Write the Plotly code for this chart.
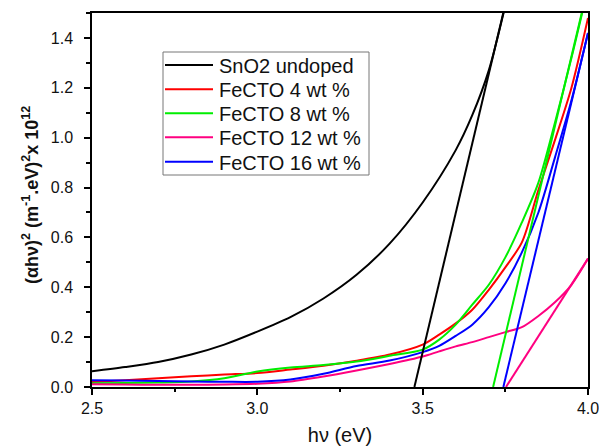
import plotly.graph_objects as go

# ---- data ----
x_black = [2.5, 2.6, 2.7, 2.8, 2.9, 3.0, 3.1, 3.2, 3.3, 3.4, 3.5, 3.6, 3.65, 3.7, 3.75]
y_sno2 = [0.063, 0.08, 0.10, 0.13, 0.17, 0.222, 0.28, 0.355, 0.45, 0.575, 0.74, 0.95, 1.09, 1.27, 1.53]

x_fe = [2.5, 2.6, 2.7, 2.8, 2.9, 3.0, 3.1, 3.2, 3.3, 3.4, 3.5, 3.55, 3.6, 3.65, 3.7,
        3.75, 3.8, 3.85, 3.9, 3.95, 4.0]
y_fe4 = [0.02, 0.027, 0.035, 0.043, 0.05, 0.056, 0.07, 0.085, 0.105, 0.13, 0.17, 0.21,
         0.255, 0.31, 0.39, 0.48, 0.58, 0.79, 0.99, 1.2, 1.48]
y_fe8 = [0.015, 0.016, 0.018, 0.022, 0.035, 0.062, 0.078, 0.088, 0.102, 0.125, 0.15,
         0.19, 0.25, 0.33, 0.41, 0.52, 0.66, 0.82, 1.06, 1.32, 1.60]
y_fe12 = [0.011, 0.01, 0.009, 0.009, 0.01, 0.013, 0.022, 0.042, 0.066, 0.092, 0.122,
          0.143, 0.163, 0.18, 0.2, 0.22, 0.24, 0.285, 0.34, 0.41, 0.515]
y_fe16 = [0.027, 0.026, 0.024, 0.022, 0.021, 0.021, 0.03, 0.053, 0.084, 0.106, 0.14,
          0.165, 0.205, 0.25, 0.32, 0.415, 0.54, 0.70, 0.92, 1.15, 1.42]

# linear extrapolation (Tauc) lines
tan_sno2_x, tan_sno2_y = [3.475, 3.75], [0.0, 1.535]
tan_fe8_x, tan_fe8_y = [3.713, 3.99], [0.0, 1.55]
tan_fe16_x, tan_fe16_y = [3.744, 4.0], [0.0, 1.42]
tan_fe12_x, tan_fe12_y = [3.752, 4.0], [0.0, 0.515]

names = ["SnO2 undoped", "FeCTO 4 wt %", "FeCTO 8 wt %", "FeCTO 12 wt %", "FeCTO 16 wt %"]
colors = ["#000000", "#FF0000", "#00EE00", "#FF0080", "#0000FF"]

FONT = "Arial, Liberation Sans, sans-serif"

# plot-area geometry in pixels
W, H = 599, 446
ML, MR, MT, MB = 92, 11, 13, 59
PW, PH = W - ML - MR, H - MT - MB


def px_x(px):
    return (px - ML) / PW


def px_y(py):
    return (H - MB - py) / PH


fig = go.Figure()
series = [(x_black, y_sno2), (x_fe, y_fe4), (x_fe, y_fe8), (x_fe, y_fe12), (x_fe, y_fe16)]
for (xs, ys), n, c in zip(series, names, colors):
    fig.add_trace(go.Scatter(x=xs, y=ys, mode="lines", name=n, showlegend=False,
                             line=dict(color=c, width=2, shape="spline", smoothing=0.8)))

for xs, ys, c in [(tan_sno2_x, tan_sno2_y, colors[0]), (tan_fe8_x, tan_fe8_y, colors[2]),
                  (tan_fe16_x, tan_fe16_y, colors[4]), (tan_fe12_x, tan_fe12_y, colors[3])]:
    fig.add_trace(go.Scatter(x=xs, y=ys, mode="lines", showlegend=False,
                             line=dict(color=c, width=2)))

axis_common = dict(showline=True, linecolor="black", linewidth=1.5, mirror=True,
                   ticks="outside", tickcolor="black", ticklen=6, tickwidth=1.5,
                   showgrid=False, zeroline=False, automargin=False,
                   ticklabeloverflow="allow",
                   tickfont=dict(family=FONT, size=16, color="#111111"))

fig.update_xaxes(range=[2.5, 4.0], dtick=0.5, tickformat=".1f",
                 minor=dict(ticks="outside", dtick=0.25, ticklen=3, tickcolor="black", tickwidth=1.5),
                 title=dict(text="hν (eV)", font=dict(family=FONT, size=20, color="#111111"), standoff=14),
                 **axis_common)
fig.update_yaxes(range=[0, 1.5], dtick=0.2, tickformat=".1f",
                 minor=dict(ticks="outside", dtick=0.1, ticklen=4, tickcolor="black", tickwidth=1.5),
                 ticklabelstandoff=8,
                 **axis_common)

fig.add_annotation(text="<b>(αhν)<sup>2</sup> (m<sup>-1</sup>.eV)<sup>2</sup>x 10<sup>12</sup></b>",
                   textangle=-90, xref="paper", yref="paper", x=px_x(31), y=px_y(195),
                   xanchor="center", yanchor="middle", showarrow=False,
                   font=dict(family=FONT, size=18, color="#111111"))

# legend box drawn with shapes/annotations (matching reference spacing)
box_l, box_r, box_t, box_b = 163, 369, 52, 175
fig.add_shape(type="rect", xref="paper", yref="paper",
              x0=px_x(box_l), x1=px_x(box_r), y0=px_y(box_b), y1=px_y(box_t),
              line=dict(color="#777777", width=1), fillcolor="white", layer="above")
row_y = [65, 89.3, 113.3, 137.3, 161.7]
for n, c, ry in zip(names, colors, row_y):
    fig.add_shape(type="line", xref="paper", yref="paper",
                  x0=px_x(165), x1=px_x(213), y0=px_y(ry), y1=px_y(ry),
                  line=dict(color=c, width=2), layer="above")
    fig.add_annotation(text=n, xref="paper", yref="paper", x=px_x(217), y=px_y(ry + 1),
                       xanchor="left", yanchor="middle", showarrow=False,
                       font=dict(family=FONT, size=20, color="#111111"))

fig.update_layout(
    width=W, height=H,
    margin=dict(l=ML, r=MR, t=MT, b=MB, autoexpand=False),
    plot_bgcolor="white", paper_bgcolor="white",
    showlegend=False,
)

fig.write_html("out.html", config={"displayModeBar": False},
               post_script="document.body.style.margin='0px';document.body.style.overflow='hidden';")
